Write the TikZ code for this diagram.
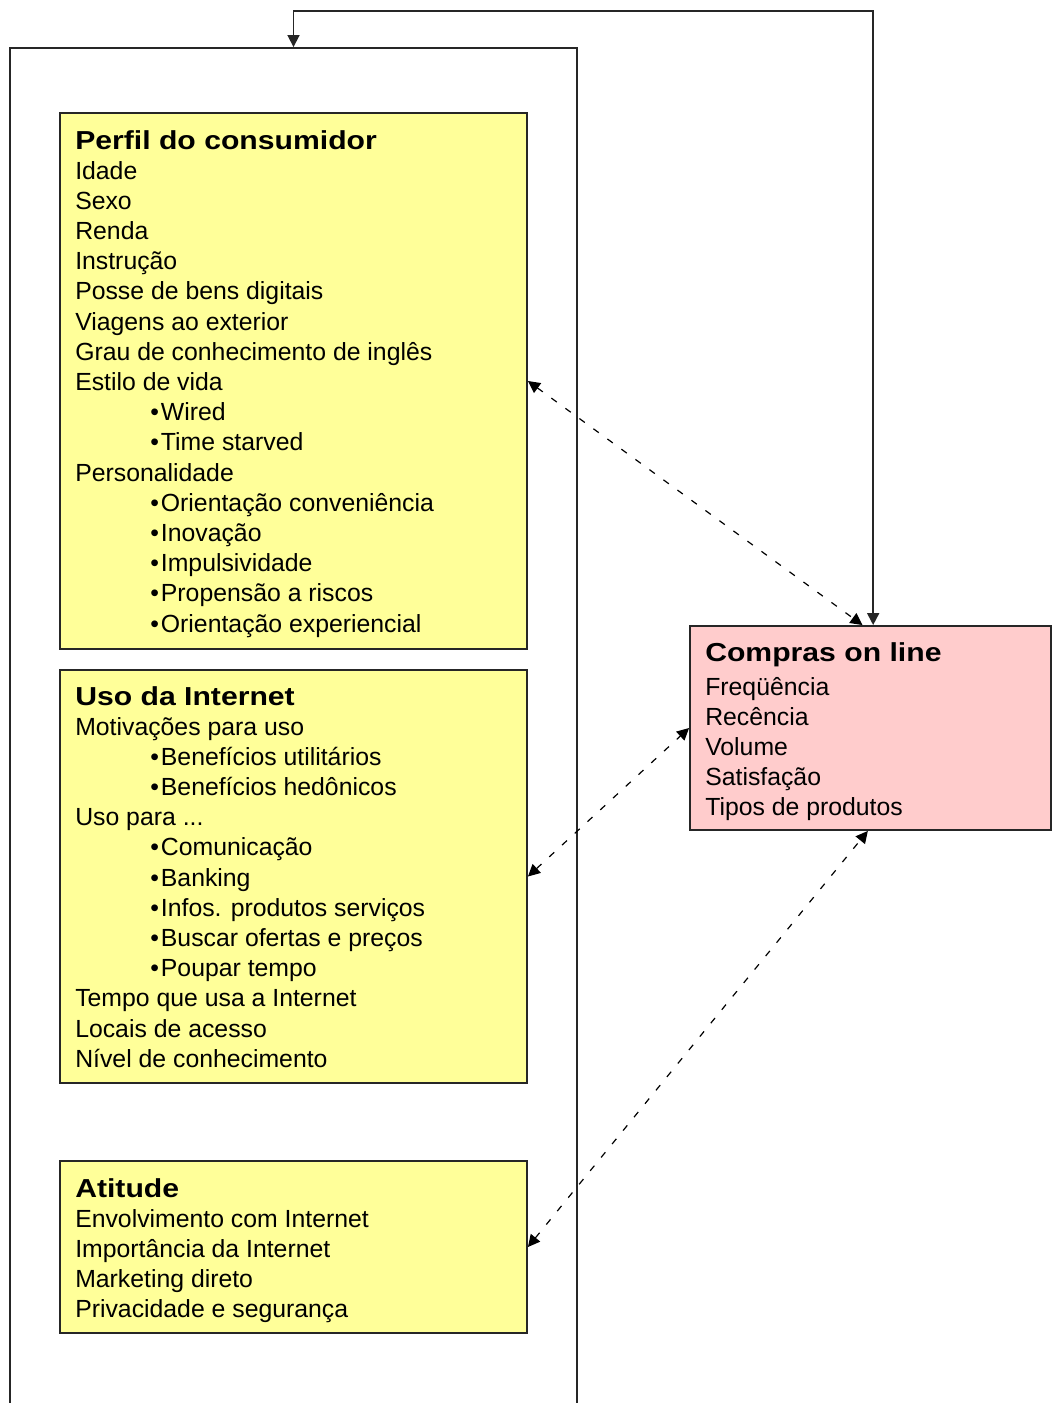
\documentclass[tikz,border=0pt]{standalone}
\usepackage{fontspec}
\setmainfont{Liberation Sans}
\newfontfamily\headfont[FakeStretch=1.16]{Liberation Sans}
\usetikzlibrary{arrows.meta,fit}
\definecolor{boxyellow}{HTML}{FFFF99}
\definecolor{boxpink}{HTML}{FFCCCC}
\newcommand\bul{\hspace*{56.25pt}\textbullet\hspace{1.5pt}}
\newcommand\threedots{...}

\begin{document}
\begin{tikzpicture}[x=0.75pt,y=-0.75pt,
  frame/.style={draw=black!85,line width=1.4pt,inner sep=0pt},
  headtext/.style={anchor=base west,inner sep=0pt,font=\headfont\bfseries\fontsize{19.5pt}{22pt}\selectfont},
  itemtext/.style={anchor=base west,inner sep=0pt,font=\fontsize{18.6pt}{22pt}\selectfont},
  tip/.tip={Triangle[length=9pt,width=9pt]},
  link/.style={{tip}-{tip},line width=0.9pt,dash pattern=on 5pt off 8pt},
  feed/.style={{tip}-{tip},line width=1.3pt,draw=black!85}]

\useasboundingbox (0,0) rectangle (1052,1403);
\clip (0,0) rectangle (1052,1403);

% outer frame, open at the bottom of the page
\node[frame,fit={(10,48) (577,1440)}] (outer) {};

% the three groups of determinants
\node[frame,fill=boxyellow,fit={(60,113) (527,649)}] (perfil) {};
\node[frame,fill=boxyellow,fit={(60,670) (527,1083)}] (uso) {};
\node[frame,fill=boxyellow,fit={(60,1161) (527,1333)}] (atitude) {};

% outcome box
\node[frame,fill=boxpink,fit={(690,626) (1051,830)}] (compras) {};

% headings
\node[headtext] (hperfil) at (75,149) {Perfil do consumidor};
\node[headtext] (huso) at (75,705) {Uso da Internet};
\node[headtext] (hatitude) at (75,1197) {Atitude};
\node[headtext] (hcompras) at (705,661) {Compras on line};

% items
\foreach \t [count=\i] in {Idade, Sexo, Renda, Instrução, Posse de bens digitais,
    Viagens ao exterior, Grau de conhecimento de inglês, Estilo de vida,
    \bul Wired, \bul Time starved, Personalidade, \bul Orientação conveniência,
    \bul Inovação, \bul Impulsividade, \bul Propensão a riscos,
    \bul Orientação experiencial}
  \node[itemtext] (p\i) at (75,{179+30.2*(\i-1)}) {\t};

\foreach \t [count=\i] in {Motivações para uso, \bul Benefícios utilitários,
    \bul Benefícios hedônicos, Uso para \threedots, \bul Comunicação, \bul Banking,
    \bul Infos. produtos serviços, \bul Buscar ofertas e preços, \bul Poupar tempo,
    Tempo que usa a Internet, Locais de acesso, Nível de conhecimento}
  \node[itemtext] (u\i) at (75,{735+30.2*(\i-1)}) {\t};

\foreach \t [count=\i] in {Envolvimento com Internet, Importância da Internet,
    Marketing direto, Privacidade e segurança}
  \node[itemtext] (a\i) at (75,{1227+30.2*(\i-1)}) {\t};

\foreach \t [count=\i] in {Freqüência, Recência, Volume, Satisfação, Tipos de produtos}
  \node[itemtext] (c\i) at (705,{695+30.2*(\i-1)}) {\t};

% relations
\draw[link] (perfil.east) -- ([xshift=-6pt]compras.north);
\draw[link] (uso.east) -- (compras.west);
\draw[link] (atitude.east) -- ([xshift=-2pt]compras.south);

% feedback loop
\coordinate (fb) at (0,11);
\draw[feed] ([xshift=2pt]compras.north) -- ([xshift=2pt]compras.north |- fb)
  -- (outer.north |- fb) -- (outer.north);
\end{tikzpicture}
\end{document}
